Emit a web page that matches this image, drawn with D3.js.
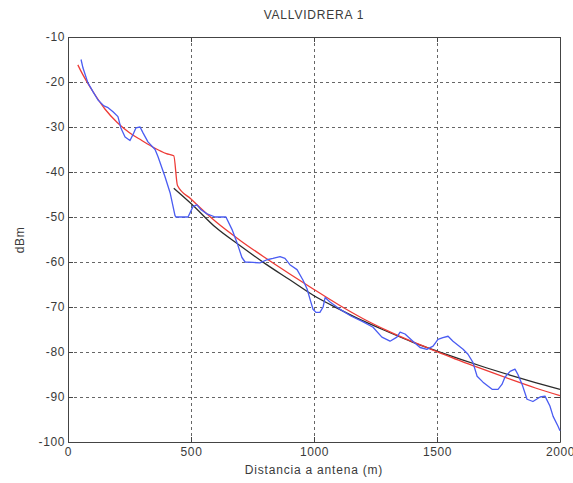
<!DOCTYPE html>
<html>
<head>
<meta charset="utf-8">
<script src="https://cdn.jsdelivr.net/npm/d3@7"></script>
<style>
  body { margin: 0; background: #fff; }
  svg { display: block; }
  .lbl { font-family: "Liberation Sans", Arial, sans-serif; fill: #3a3a3a; }
  .axis text { font-family: "Liberation Sans", Arial, sans-serif; font-size: 12px; fill: #3a3a3a; letter-spacing: 0.6px; }
  .axis path, .axis line { stroke: #444; }
  .grid line { stroke: #666; stroke-dasharray: 3,3; }
  .grid path { display: none; }
</style>
</head>
<body>
<svg id="chart" width="573" height="483"></svg>
<script>
/*******************************************************************************************/
// Data

var xTicks = [0, 500, 1000, 1500, 2000];
var yTicks = [-100, -90, -80, -70, -60, -50, -40, -30, -20, -10];

// measured level (blue)
var measDist = [53, 61, 81, 102, 122, 146, 163, 183, 203, 215, 232, 252, 264, 276, 293, 305, 325, 354, 366, 394, 415, 435, 439,
                488, 508, 524, 541, 565, 598, 642, 667, 687, 707, 720, 752, 780, 809, 833, 862, 882, 902, 931, 955, 972, 984,
                996, 1008, 1024, 1037, 1045, 1065, 1100, 1150, 1200, 1240, 1276, 1309, 1337, 1350, 1370, 1402, 1431, 1459,
                1484, 1504, 1524, 1545, 1565, 1606, 1626, 1646, 1663, 1687, 1724, 1748, 1764, 1776, 1797, 1817, 1829, 1846,
                1866, 1890, 1919, 1939, 1959, 1972, 1992, 2000];
var measDbm  = [-15, -16.9, -20.2, -22.2, -24, -25.3, -25.7, -26.6, -27.7, -30.2, -32.2, -33, -31.7, -30.2, -30, -31.3, -33.3,
                -35, -36.6, -41, -44.6, -49.7, -50, -50, -47.7, -47.3, -48.4, -49.3, -50, -50, -52.8, -55.7, -59, -60, -60.1,
                -60.2, -59.5, -59.2, -58.8, -59.2, -60.6, -61.7, -64, -66, -68.3, -70.5, -71.2, -71.2, -70, -67.9, -68.9,
                -70.3, -72, -73.3, -74.5, -76.7, -77.6, -76.7, -75.6, -76, -77.6, -79, -79.4, -78.7, -77.2, -76.8, -76.5,
                -77.6, -79.4, -80.5, -82.3, -85.4, -86.7, -88.3, -88.3, -87.2, -85.6, -84.3, -83.8, -85, -87.2, -90.5, -91,
                -90, -89.8, -92, -94.3, -96.5, -97.5];

// model with step (red)
var modelDist = [40, 50, 100, 150, 200, 250, 300, 350, 400, 430, 445, 500, 600, 700, 800, 900, 1000, 1100, 1200, 1300, 1400,
                 1500, 1600, 1700, 1800, 1900, 2000];
var modelDbm  = [-16.2, -17.3, -22, -26, -29, -31.3, -33, -34.6, -35.9, -36.4, -43, -46, -51, -55.2, -59, -62.6, -66.1,
                 -69.5, -72.6, -75.3, -77.7, -79.9, -82.1, -84.1, -86.1, -88, -89.7];

// regression curve (black)
var fitDist = [430, 500, 600, 700, 800, 900, 1000, 1100, 1200, 1300, 1400, 1500, 1600, 1700, 1800, 1900, 2000];
var fitDbm  = [-43.6, -47, -52.3, -56.4, -60.3, -63.9, -67.5, -70.4, -73.1, -75.5, -77.8, -79.8, -81.7, -83.5, -85.2,
               -86.8, -88.3];

/*******************************************************************************************/
// Scales, grid and axes

var svg = d3.select('#chart');
var mLeft = 68, mRight = 560, mTop = 37, mBottom = 442;

var xScale = d3.scaleLinear().domain([0, 2000]).range([mLeft, mRight]);
var yScale = d3.scaleLinear().domain([-100, -10]).range([mBottom, mTop]);
var fmt = function(d){ return String(d) };   // plain hyphen minus, like the original

svg.append('g').attr('class', 'grid').attr('transform', 'translate(0,' + mBottom + ')')
   .call(d3.axisBottom(xScale).tickValues(xTicks.slice(1, -1)).tickSize(-(mBottom - mTop)).tickFormat(''));
svg.append('g').attr('class', 'grid').attr('transform', 'translate(' + mLeft + ',0)')
   .call(d3.axisLeft(yScale).tickValues(yTicks.slice(1, -1)).tickSize(-(mRight - mLeft)).tickFormat(''));

svg.append('g').attr('class', 'axis').attr('transform', 'translate(0,' + mBottom + ')')
   .call(d3.axisBottom(xScale).tickValues(xTicks).tickSizeInner(-5).tickSizeOuter(0).tickPadding(5).tickFormat(fmt));
svg.append('g').attr('class', 'axis').attr('transform', 'translate(' + mLeft + ',0)')
   .call(d3.axisLeft(yScale).tickValues(yTicks).tickSizeInner(-5).tickSizeOuter(0).tickPadding(3).tickFormat(fmt));
svg.append('g').attr('class', 'axis').attr('transform', 'translate(0,' + mTop + ')')
   .call(d3.axisTop(xScale).tickValues(xTicks).tickSizeInner(-5).tickSizeOuter(0).tickFormat(''));
svg.append('g').attr('class', 'axis').attr('transform', 'translate(' + mRight + ',0)')
   .call(d3.axisRight(yScale).tickValues(yTicks).tickSizeInner(-5).tickSizeOuter(0).tickFormat(''));

/*******************************************************************************************/
// Lines

var lineGen = d3.line().x(function(d){ return xScale(d[0]) }).y(function(d){ return yScale(d[1]) });

[[fitDist, fitDbm, '#2b2b2b', d3.curveMonotoneX],
 [modelDist, modelDbm, '#ee3b36', d3.curveMonotoneX],
 [measDist, measDbm, '#4a5cf2', d3.curveLinear]].forEach(function(s){
  var pts = s[0].map(function(x, i){ return [x, s[1][i]] });
  svg.append('path')
     .attr('d', lineGen.curve(s[3])(pts))
     .attr('fill', 'none').attr('stroke', s[2]).attr('stroke-width', 1.3).attr('stroke-linejoin', 'round');
});

/*******************************************************************************************/
// Labels

svg.append('text').attr('class', 'lbl').attr('x', (mLeft + mRight) / 2).attr('y', 19)
   .attr('text-anchor', 'middle').style('font-size', '12px').style('letter-spacing', '0.8px').text('VALLVIDRERA 1');
svg.append('text').attr('class', 'lbl').attr('x', (mLeft + mRight) / 2).attr('y', 474)
   .attr('text-anchor', 'middle').style('font-size', '12px').style('letter-spacing', '0.8px').text('Distancia a antena (m)');
svg.append('text').attr('class', 'lbl').attr('transform', 'translate(24,240) rotate(-90)')
   .attr('text-anchor', 'middle').style('font-size', '12px').style('letter-spacing', '0.6px').text('dBm');
</script>
</body>
</html>
